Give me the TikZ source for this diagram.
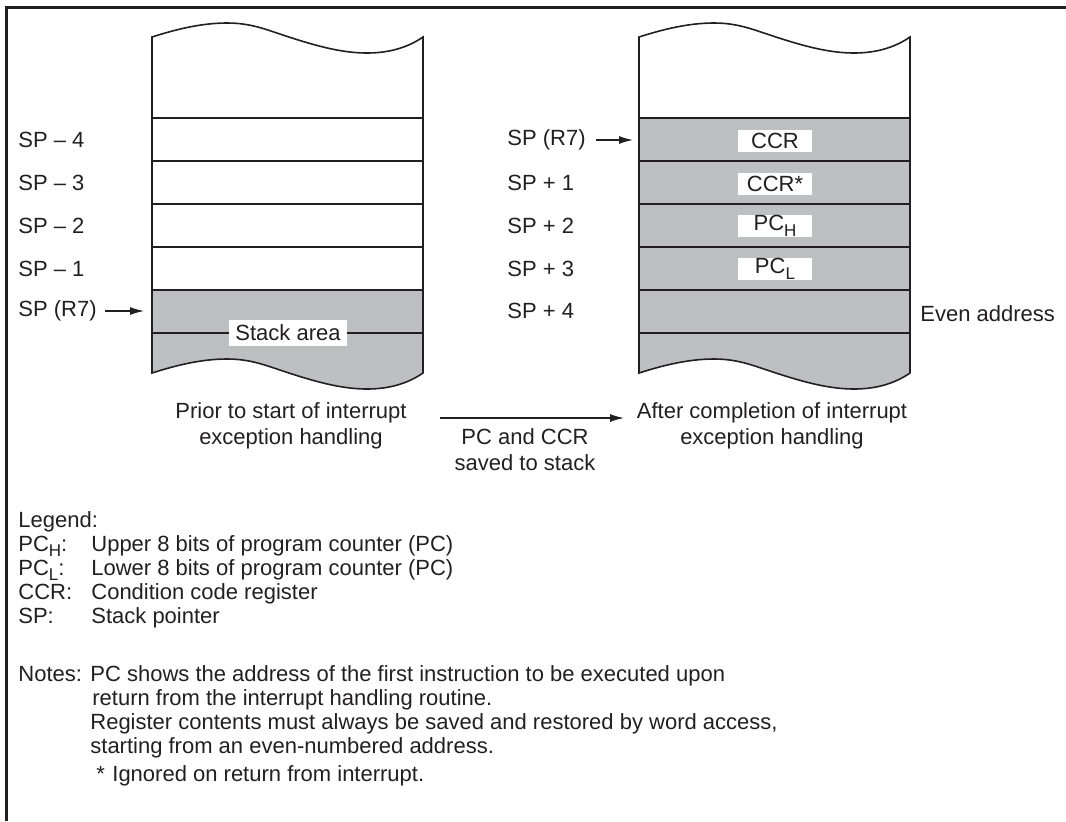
\documentclass[tikz,border=0pt]{standalone}
\usepackage{fontspec}
\setmainfont{Liberation Sans}
\usetikzlibrary{arrows.meta}

\definecolor{stackgrey}{RGB}{190,191,193}
\definecolor{ink}{RGB}{35,31,32}

% wavy edge of a stack column, left to right and right to left
\newcommand{\wavefw}[1]{(0,#1) .. controls (25,#1-8) and (50,#1-14) .. (75,#1-14) .. controls (100,#1-14) and (115,#1-7) .. (140,#1+1) .. controls (165,#1+9) and (190,#1+16) .. (215,#1+16) .. controls (240,#1+16) and (258,#1+9) .. (271,#1)}
\newcommand{\wavebk}[1]{(271,#1) .. controls (258,#1+9) and (240,#1+16) .. (215,#1+16) .. controls (190,#1+16) and (165,#1+9) .. (140,#1+1) .. controls (115,#1-7) and (100,#1-14) .. (75,#1-14) .. controls (50,#1-14) and (25,#1-8) .. (0,#1)}
\newcommand{\lowsub}[1]{\raisebox{-0.5ex}{\fontsize{8.5}{8.5}\selectfont #1}}

\begin{document}
\begin{tikzpicture}[x=0.5pt,y=-0.5pt,
    every node/.style={text=ink,font=\fontsize{11}{13}\selectfont},
    lbl/.style={anchor=west,inner sep=0pt},
    txt/.style={anchor=base west,inner sep=0pt},
    cell/.style={fill=white,inner sep=0pt,minimum width=37pt,minimum height=11pt},
    ptr/.style={-{Latex[length=7pt,width=4pt]},draw=ink,line width=0.6pt}]
    \useasboundingbox (0,0) rectangle (1066,821);
    \draw[ink,line width=1.5pt] (6,821) -- (6,7) -- (1066,7);

    % stack before
    \begin{scope}[shift={(152,0)}]
        \fill[stackgrey] (0,290) -- (271,290) -- \wavebk{373} -- cycle;
        \foreach \y in {118,161,204,247,290,333}
            \draw[ink,line width=0.8pt] (0,\y) -- (271,\y);
        \draw[ink,line width=0.8pt] \wavefw{37} -- \wavebk{373} -- cycle;
        \node[fill=white,inner xsep=3pt,inner ysep=2.5pt] (area) at (136,333) {Stack area};
    \end{scope}

    % stack after
    \begin{scope}[shift={(639,0)}]
        \fill[stackgrey] (0,118) -- (271,118) -- \wavebk{373} -- cycle;
        \foreach \y in {118,161,204,247,290,333}
            \draw[ink,line width=0.8pt] (0,\y) -- (271,\y);
        \draw[ink,line width=0.8pt] \wavefw{37} -- \wavebk{373} -- cycle;
        \node[cell] (ccr) at (136,141) {CCR};
        \node[cell] (ccrx) at (136,184) {CCR*};
        \node[cell] (pch) at (136,226) {PC\lowsub{H}};
        \node[cell] (pcl) at (136,269) {PC\lowsub{L}};
    \end{scope}

    % addresses
    \node[lbl] (lm4) at (18,140) {SP \textendash\ 4};
    \node[lbl] (lm3) at (18,183) {SP \textendash\ 3};
    \node[lbl] (lm2) at (18,226) {SP \textendash\ 2};
    \node[lbl] (lm1) at (18,269) {SP \textendash\ 1};
    \node[lbl] (lsp) at (18,311) {SP (R7)};
    \coordinate (ltip) at (144,311);
    \draw[ptr,shorten <=4pt] (lsp) -- (ltip);

    \node[lbl] (rsp) at (507,140) {SP (R7)};
    \node[lbl] (rp1) at (507,183) {SP + 1};
    \node[lbl] (rp2) at (507,226) {SP + 2};
    \node[lbl] (rp3) at (507,269) {SP + 3};
    \node[lbl] (rp4) at (507,311) {SP + 4};
    \coordinate (rtip) at (633,140);
    \draw[ptr,shorten <=5pt] (rsp) -- (rtip);
    \node[lbl] (even) at (920,314) {Even address};

    % captions
    \node[align=center] (prior) at (291,426) {Prior to start of interrupt\\exception handling};
    \node[align=center] (after) at (772,426) {After completion of interrupt\\exception handling};
    \node[align=center] (saved) at (525,450) {PC and CCR\\saved to stack};
    \coordinate (sfrom) at (440,418);
    \coordinate (sto) at (624,418);
    \draw[ptr] (sfrom) -- (sto);

    % legend
    \node[txt] (leg) at (18,527) {Legend:};
    \node[txt] (kpch) at (18,551) {PC\lowsub{H}:};
    \node[txt] (dpch) at (91,551) {Upper 8 bits of program counter (PC)};
    \node[txt] (kpcl) at (18,575) {PC\lowsub{L}:};
    \node[txt] (dpcl) at (91,575) {Lower 8 bits of program counter (PC)};
    \node[txt] (kccr) at (18,599) {CCR:};
    \node[txt] (dccr) at (91,599) {Condition code register};
    \node[txt] (ksp) at (18,623) {SP:};
    \node[txt] (dsp) at (91,623) {Stack pointer};

    % notes
    \node[txt] (notes) at (18,681) {Notes:};
    \node[txt] (n1a) at (90,681) {PC shows the address of the first instruction to be executed upon};
    \node[txt] (n1b) at (92,705) {return from the interrupt handling routine.};
    \node[txt] (n2a) at (90,729) {Register contents must always be saved and restored by word access,};
    \node[txt] (n2b) at (90,753) {starting from an even-numbered address.};
    \node[txt] (n3s) at (96,781) {*};
    \node[txt] (n3) at (112,781) {Ignored on return from interrupt.};
\end{tikzpicture}
\end{document}
